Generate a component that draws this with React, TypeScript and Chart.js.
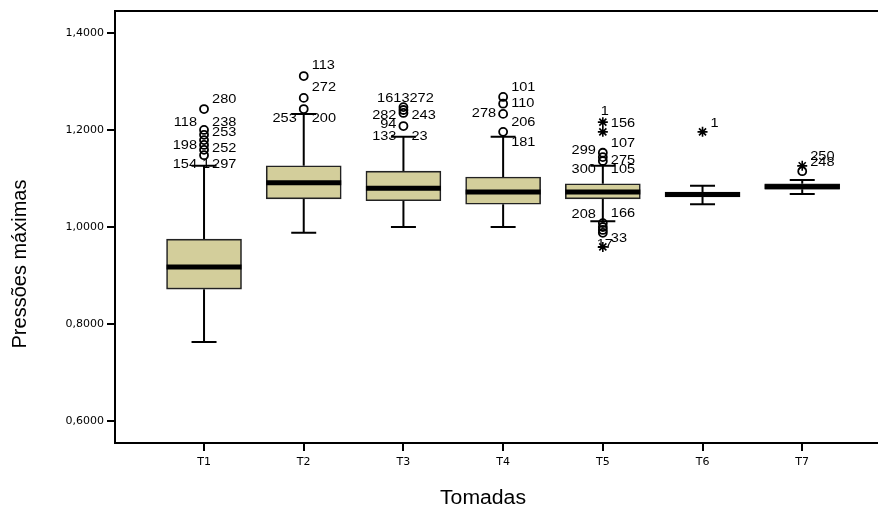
import React, { useEffect, useRef } from 'react';
import { Chart, registerables } from 'chart.js';

Chart.register(...registerables);

const categories = ['T1', 'T2', 'T3', 'T4', 'T5', 'T6', 'T7'];
const yTickValues = [0.6, 0.8, 1.0, 1.2, 1.4];

const q1Values = [0.872, 1.058, 1.054, 1.047, 1.058, 1.062, 1.078];
const medianValues = [0.9175, 1.091, 1.080, 1.072, 1.072, 1.067, 1.083];
const q3Values = [0.975, 1.126, 1.115, 1.103, 1.089, 1.072, 1.089];
const whiskerLowValues = [0.763, 0.988, 1.0, 1.0, 1.012, 1.047, 1.068];
const whiskerHighValues = [1.126, 1.233, 1.186, 1.186, 1.126, 1.085, 1.097];

const circleOutliers: number[][] = [
  [1.148, 1.159, 1.169, 1.179, 1.190, 1.200, 1.243],
  [1.243, 1.266, 1.311],
  [1.208, 1.235, 1.241, 1.247],
  [1.196, 1.233, 1.254, 1.268],
  [1.136, 1.144, 1.153, 1.008, 1.0, 0.994, 0.988],
  [],
  [1.115],
];
const starOutliers: number[][] = [
  [],
  [],
  [],
  [],
  [1.196, 1.216, 0.959],
  [1.196],
  [1.126],
];

// [category index, value at label, side (L/R/C), text]
const outlierLabels: [number, number, string, string][] = [
  [0, 1.262, 'R', '280'],
  [0, 1.216, 'L', '118'],
  [0, 1.216, 'R', '238'],
  [0, 1.194, 'R', '253'],
  [0, 1.169, 'L', '198'],
  [0, 1.161, 'R', '252'],
  [0, 1.128, 'L', '154'],
  [0, 1.128, 'C', '1'],
  [0, 1.128, 'R', '297'],
  [1, 1.332, 'R', '113'],
  [1, 1.287, 'R', '272'],
  [1, 1.223, 'L', '253'],
  [1, 1.223, 'R', '200'],
  [2, 1.264, 'C', '1613272'],
  [2, 1.229, 'L', '282'],
  [2, 1.229, 'R', '243'],
  [2, 1.212, 'L', '94'],
  [2, 1.186, 'L', '133'],
  [2, 1.186, 'R', '23'],
  [3, 1.287, 'R', '101'],
  [3, 1.254, 'R', '110'],
  [3, 1.233, 'L', '278'],
  [3, 1.216, 'R', '206'],
  [3, 1.175, 'R', '181'],
  [4, 1.239, 'C', '1'],
  [4, 1.214, 'R', '156'],
  [4, 1.173, 'R', '107'],
  [4, 1.157, 'L', '299'],
  [4, 1.138, 'R', '275'],
  [4, 1.118, 'L', '300'],
  [4, 1.118, 'R', '105'],
  [4, 1.025, 'L', '208'],
  [4, 1.027, 'R', '166'],
  [4, 0.977, 'R', '33'],
  [4, 0.965, 'C', '17'],
  [5, 1.214, 'R', '1'],
  [6, 1.146, 'R', '250'],
  [6, 1.134, 'R', '248'],
];

const xTitle = 'Tomadas';
const yTitle = 'Pressões máximas';

const BOX_FILL = '#D3CE9B';
const BOX_WIDTH = 75;
const CAP_WIDTH = 25;

function stretchedText(ctx: CanvasRenderingContext2D, text: string, x: number, y: number, align: CanvasTextAlign, sx: number) {
  ctx.save();
  ctx.translate(x, y);
  ctx.scale(sx, 1);
  ctx.textAlign = align;
  ctx.textBaseline = 'middle';
  ctx.fillText(text, 0, 0);
  ctx.restore();
}

const boxPlugin = {
  id: 'boxExtras',
  beforeDatasetsDraw(chart: any) {
    const { ctx, scales } = chart;
    const xs = scales.x;
    const ys = scales.y;
    ctx.save();
    ctx.strokeStyle = '#000';
    ctx.lineWidth = 2;
    categories.forEach((_, i) => {
      const x = xs.getPixelForValue(i + 1);
      const yHi = ys.getPixelForValue(whiskerHighValues[i]);
      const yLo = ys.getPixelForValue(whiskerLowValues[i]);
      const yQ1 = ys.getPixelForValue(q1Values[i]);
      const yQ3 = ys.getPixelForValue(q3Values[i]);
      ctx.beginPath();
      ctx.moveTo(x, yQ3);
      ctx.lineTo(x, yHi);
      ctx.moveTo(x, yQ1);
      ctx.lineTo(x, yLo);
      ctx.moveTo(x - CAP_WIDTH / 2, yHi);
      ctx.lineTo(x + CAP_WIDTH / 2, yHi);
      ctx.moveTo(x - CAP_WIDTH / 2, yLo);
      ctx.lineTo(x + CAP_WIDTH / 2, yLo);
      ctx.stroke();
    });
    ctx.restore();
  },
  afterDatasetsDraw(chart: any) {
    const { ctx, scales } = chart;
    const xs = scales.x;
    const ys = scales.y;
    ctx.save();
    ctx.strokeStyle = '#000';
    ctx.lineWidth = 5;
    categories.forEach((_, i) => {
      const x = xs.getPixelForValue(i + 1);
      const ym = ys.getPixelForValue(medianValues[i]);
      ctx.beginPath();
      ctx.moveTo(x - BOX_WIDTH / 2, ym);
      ctx.lineTo(x + BOX_WIDTH / 2, ym);
      ctx.stroke();
    });
    ctx.fillStyle = '#000';
    ctx.font = '13px "Liberation Sans", Arial, sans-serif';
    outlierLabels.forEach(([ci, v, side, text]) => {
      const x = xs.getPixelForValue(ci + 1);
      const y = ys.getPixelForValue(v);
      if (side === 'L') stretchedText(ctx, text, x - 7, y, 'right', 1.12);
      else if (side === 'R') stretchedText(ctx, text, x + 8, y, 'left', 1.12);
      else stretchedText(ctx, text, x + 2, y, 'center', 1.12);
    });
    ctx.restore();
  },
  afterDraw(chart: any) {
    const { ctx, chartArea } = chart;
    ctx.save();
    ctx.strokeStyle = '#000';
    ctx.lineWidth = 2;
    ctx.beginPath();
    ctx.moveTo(chartArea.left - 1, chartArea.top);
    ctx.lineTo(chart.width, chartArea.top);
    ctx.stroke();
    ctx.fillStyle = '#000';
    ctx.font = '20px "Liberation Sans", Arial, sans-serif';
    stretchedText(ctx, xTitle, 483, 498, 'center', 1.06);
    ctx.save();
    ctx.translate(20, 264);
    ctx.rotate(-Math.PI / 2);
    ctx.textAlign = 'center';
    ctx.textBaseline = 'middle';
    ctx.fillText(yTitle, 0, 0);
    ctx.restore();
    ctx.restore();
  },
};

export default function App() {
  const canvasRef = useRef<HTMLCanvasElement | null>(null);

  useEffect(() => {
    if (!canvasRef.current) return;
    const circleData: { x: number; y: number }[] = [];
    circleOutliers.forEach((arr, i) => arr.forEach((v) => circleData.push({ x: i + 1, y: v })));
    const starData: { x: number; y: number }[] = [];
    starOutliers.forEach((arr, i) => arr.forEach((v) => starData.push({ x: i + 1, y: v })));

    const chart = new Chart(canvasRef.current, {
      type: 'bar',
      data: {
        datasets: [
          {
            type: 'scatter',
            data: circleData,
            pointStyle: 'circle',
            pointRadius: 4,
            pointBorderWidth: 1.8,
            pointBorderColor: '#000',
            pointBackgroundColor: 'rgba(0,0,0,0)',
            order: 0,
          } as any,
          {
            type: 'scatter',
            data: starData,
            pointStyle: 'star',
            pointRadius: 5,
            pointBorderWidth: 1.6,
            pointBorderColor: '#000',
            pointBackgroundColor: '#000',
            order: 1,
          } as any,
          {
            type: 'bar',
            data: categories.map((_, i) => ({ x: i + 1, y: [q1Values[i], q3Values[i]] })),
            backgroundColor: BOX_FILL,
            borderColor: '#222',
            borderWidth: 1.6,
            borderSkipped: false,
            barThickness: BOX_WIDTH,
            grouped: false,
            order: 2,
          } as any,
        ],
      },
      options: {
        responsive: false,
        animation: false,
        layout: { autoPadding: false, padding: { top: 11, right: 0, left: 0, bottom: 0 } },
        plugins: {
          legend: { display: false },
          tooltip: { enabled: false },
          title: { display: false },
        },
        scales: {
          x: {
            type: 'linear',
            offset: false,
            min: 0.107,
            max: 7.76,
            afterBuildTicks: (s: any) => {
              s.ticks = categories.map((_, i) => ({ value: i + 1 }));
            },
            afterFit: (s: any) => {
              s.height = 68;
              s.paddingRight = 0;
              s.paddingLeft = 0;
            },
            ticks: {
              callback: (v: any) => categories[Math.round(Number(v)) - 1] ?? '',
              font: { family: '"DejaVu Sans", sans-serif', size: 11 },
              color: '#000',
              padding: 5,
              autoSkip: false,
              maxRotation: 0,
            },
            grid: { offset: false, drawOnChartArea: false, drawTicks: true, tickLength: 8, color: '#000', lineWidth: 2 },
            border: { color: '#000', width: 2 },
          },
          y: {
            type: 'linear',
            min: 0.555,
            max: 1.445,
            afterBuildTicks: (s: any) => {
              s.ticks = yTickValues.map((v) => ({ value: v }));
            },
            afterFit: (s: any) => {
              s.width = 115;
            },
            ticks: {
              callback: (v: any) => Number(v).toFixed(4).replace('.', ','),
              font: { family: '"DejaVu Sans", sans-serif', size: 11 },
              color: '#000',
              padding: 3,
            },
            grid: { drawOnChartArea: false, drawTicks: true, tickLength: 8, color: '#000', lineWidth: 2 },
            border: { color: '#000', width: 2 },
          },
        },
      } as any,
      plugins: [boxPlugin],
    });
    return () => chart.destroy();
  }, []);

  return (
    <div style={{ position: 'absolute', left: 0, top: 0, width: 878, height: 511, background: '#fff' }}>
      <canvas ref={canvasRef} width={878} height={511} />
    </div>
  );
}
